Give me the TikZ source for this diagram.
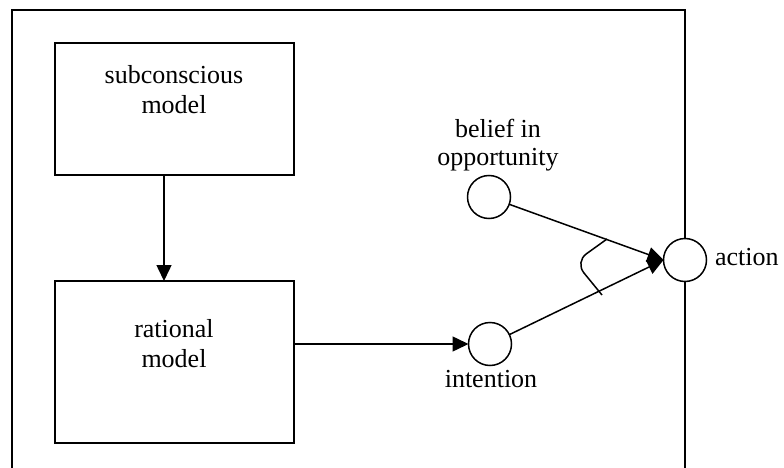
\documentclass[tikz,border=0pt]{standalone}
\usepackage{fontspec}
\setmainfont{Liberation Serif}
\usetikzlibrary{arrows.meta}
\begin{document}
\begin{tikzpicture}[x=1pt,y=-1pt,
  line width=1.5pt,
  every node/.style={inner sep=0pt, outer sep=0pt},
  txt/.style={font=\fontsize{26}{30}\selectfont, align=center},
  modelbox/.style={draw, rectangle, fill=white, minimum width=239pt},
  state/.style={draw, circle, fill=white, minimum size=43pt},
  arr/.style={-{Triangle[length=16pt,width=15pt]}}
]
\useasboundingbox (0,0) rectangle (784,468);

% open frame around the whole model
\draw (12,470) -- (12,10) -- (685,10) -- (685,470);

% the two models
\node[modelbox, minimum height=132pt] (sub) at (174.5,109) {};
\node[txt] (subtxt) at (174,90) {subconscious\\model};
\node[modelbox, minimum height=162pt] (rat) at (174.5,362) {};
\node[txt] (rattxt) at (174,344) {rational\\model};

% states
\node[state] (bel) at (489,197) {};
\node[state] (int) at (490,344) {};
\node[state] (act) at (685,260) {};

\node[txt, font=\fontsize{26}{28}\selectfont] (beltxt) at (498,145) {belief in\\opportunity};
\node[txt, anchor=base] (inttxt) at (491,387) {intention};
\node[txt, anchor=base west] (acttxt) at (715,265) {action};

% connectors
\draw[arr] ([xshift=-10.5pt]sub.south) -- ([xshift=-10.5pt]rat.north);
\draw[arr] (rat.east |- int.west) -- (int.west);
\draw[arr] (bel) -- (act.west);
\draw[arr] (int) -- (act.west);

% joint condition mark across both inputs of the action
\draw[rounded corners=14pt] (607,239) -- (575,262) -- (602,295);
\end{tikzpicture}
\end{document}
